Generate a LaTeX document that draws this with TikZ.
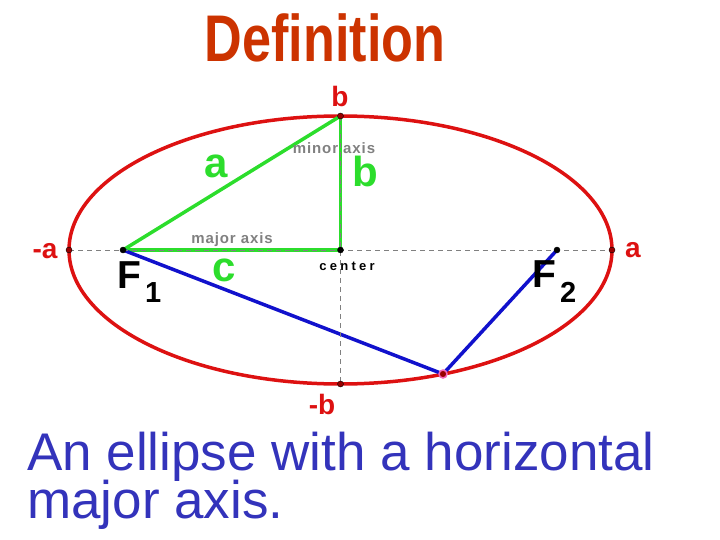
\documentclass[tikz,border=0pt]{standalone}
\usepackage{fontspec}
\setmainfont{Liberation Sans}
\usepackage{xcolor}
\usepackage{tikz}
\definecolor{curvered}{RGB}{221,17,17}
\definecolor{sidegreen}{RGB}{44,221,44}
\definecolor{focusblue}{RGB}{17,17,204}
\definecolor{titlered}{RGB}{204,51,0}
\definecolor{captionblue}{RGB}{51,51,187}
\definecolor{axisgray}{RGB}{128,128,128}
\tikzstyle{dot}=[fill=black, draw=black, shape=circle, inner sep=0pt, minimum size=6pt]
\tikzstyle{vertex}=[fill=red!60!black, draw=black, shape=circle, inner sep=0pt, minimum size=6pt]
\tikzstyle{moving point}=[fill=red!60!black, draw=magenta!60, line width=1.5pt, shape=circle, inner sep=0pt, minimum size=8pt]
\tikzstyle{red edge}=[-, draw=curvered, line width=3.5pt]
\tikzstyle{green edge}=[-, draw=sidegreen, line width=3.5pt]
\tikzstyle{blue edge}=[-, draw=focusblue, line width=3.5pt]
\tikzstyle{dashed edge}=[-, draw=axisgray, dash pattern=on 5pt off 4pt, line width=0.8pt]
\tikzstyle{red label}=[inner sep=0pt, text=curvered, font=\bfseries\fontsize{28}{28}\selectfont]
\tikzstyle{green label}=[inner sep=0pt, text=sidegreen, font=\bfseries\fontsize{42}{42}\selectfont]
\tikzstyle{gray label}=[inner sep=0pt, text=axisgray, font=\bfseries\fontsize{15}{15}\selectfont\addfontfeature{LetterSpace=6}]
\tikzstyle{focus label}=[anchor=base west, inner sep=0pt, font=\bfseries\fontsize{39}{39}\selectfont]
\tikzstyle{caption}=[anchor=base west, inner sep=0pt, text=captionblue, font=\fontsize{53}{53}\selectfont]
\pgfdeclarelayer{nodelayer}
\pgfdeclarelayer{edgelayer}
\pgfsetlayers{edgelayer,nodelayer,main}

\begin{document}
\begin{tikzpicture}[x=1pt, y=-1pt]
        	\useasboundingbox (0, 0) rectangle (720, 540);
        	\begin{pgfonlayer}{nodelayer}
        		\node [style=dot] (0) at (123, 250) {};
        		\node [style=dot] (1) at (557, 250) {};
        		\node [style=dot] (2) at (340.5, 250) {};
        		\node [style=vertex] (3) at (69, 250) {};
        		\node [style=vertex] (4) at (612, 250) {};
        		\node [style=vertex] (5) at (340.5, 116) {};
        		\node [style=vertex] (6) at (340.5, 384) {};
        		\node [style=moving point] (7) at (443, 374) {};
        		\node [anchor=base, text=titlered, font=\bfseries\fontsize{66}{66}\selectfont] (8) at (325, 62) {\scalebox{0.79}[1]{Definition}};
        		\node [style=red label] (9) at (340, 96) {b};
        		\node [style=red label] (10) at (45, 251) {-a};
        		\node [style=red label] (11) at (633, 250) {a};
        		\node [style=red label] (12) at (322, 404) {-b};
        		\node [style=green label] (13) at (216, 166) {a};
        		\node [style=green label] (14) at (365, 171) {b};
        		\node [style=green label] (15) at (224, 270) {c};
        		\node [style=gray label] (16) at (334, 148) {minor axis};
        		\node [style=gray label] (17) at (232, 240) {major axis};
        		\node [font=\bfseries\fontsize{13}{13}\selectfont\addfontfeature{LetterSpace=25}] (18) at (347, 266) {center};
        		\node [style=focus label] (19) at (117, 288) {F\hspace{4pt}\raisebox{-14pt}{\fontsize{29}{29}\selectfont 1}};
        		\node [style=focus label] (20) at (532, 287) {F\hspace{4pt}\raisebox{-15pt}{\fontsize{29}{29}\selectfont 2}};
        		\node [style=caption] (21) at (27, 470) {An ellipse with a horizontal};
        		\node [style=caption] (22) at (27, 518) {major axis.};
        	\end{pgfonlayer}
        	\begin{pgfonlayer}{edgelayer}
        		\draw [style=red edge] (2) ellipse [x radius=271.5pt, y radius=134pt];
        		\draw [style=green edge] (0.center) to (5.center);
        		\draw [style=green edge] (5.center) to (2.center);
        		\draw [style=green edge] (2.center) to (0.center);
        		\draw [style=blue edge] (0.center) to (7.center);
        		\draw [style=blue edge] (7.center) to (1.center);
        		\draw [style=dashed edge] (3.center) to (4.center);
        		\draw [style=dashed edge] (5.center) to (6.center);
        	\end{pgfonlayer}
        \end{tikzpicture}
\end{document}
